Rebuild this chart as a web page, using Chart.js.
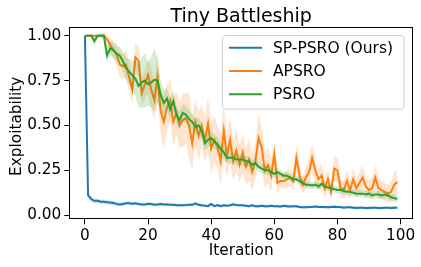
<!DOCTYPE html>
<html>
<head>
<meta charset="utf-8">
<script src="https://cdn.jsdelivr.net/npm/chart.js@4.4.1/dist/chart.umd.min.js"></script>
<style>
  html, body { margin: 0; padding: 0; background: #fff; }
  canvas { display: block; }
</style>
</head>
<body>
<canvas id="chart" width="421" height="267"></canvas>
<script>
const FONT = 'DejaVu Sans'
const TITLE = 'Tiny Battleship'
const Y_LABEL = 'Exploitability'

// iteration index 0..99
const iterations = Array.from({ length: 100 }, (_, i) => i)
const xTicks = [0, 20, 40, 60, 80, 100]
const yTicks = [0, 0.25, 0.5, 0.75, 1.0]

const spPsro = [
  1.0, 0.11, 0.09, 0.08, 0.08, 0.075, 0.075, 0.072, 0.07, 0.068,
  0.063, 0.06, 0.062, 0.066, 0.066, 0.064, 0.066, 0.062, 0.06, 0.06,
  0.063, 0.062, 0.058, 0.06, 0.062, 0.06, 0.06, 0.058, 0.058, 0.055,
  0.055, 0.055, 0.056, 0.058, 0.058, 0.065, 0.058, 0.055, 0.053, 0.05,
  0.062, 0.05, 0.056, 0.05, 0.055, 0.053, 0.055, 0.06, 0.056, 0.055,
  0.055, 0.052, 0.05, 0.055, 0.05, 0.05, 0.052, 0.05, 0.05, 0.052,
  0.05, 0.05, 0.048, 0.052, 0.05, 0.048, 0.05, 0.05, 0.046, 0.044,
  0.044, 0.045, 0.045, 0.048, 0.046, 0.045, 0.045, 0.044, 0.046, 0.047,
  0.045, 0.045, 0.042, 0.044, 0.044, 0.042, 0.04, 0.041, 0.042, 0.04,
  0.04, 0.041, 0.042, 0.04, 0.04, 0.041, 0.042, 0.04, 0.042, 0.042
]
const spPsroSpread = [
  0, 0.02, 0.015, 0.012, 0.012, 0.012, 0.012, 0.012, 0.012, 0.012,
  0.01, 0.01, 0.01, 0.01, 0.01, 0.01, 0.01, 0.01, 0.01, 0.01,
  0.008, 0.008, 0.008, 0.008, 0.008, 0.008, 0.008, 0.008, 0.008, 0.008,
  0.008, 0.008, 0.008, 0.008, 0.008, 0.008, 0.008, 0.008, 0.008, 0.008,
  0.008, 0.008, 0.008, 0.008, 0.008, 0.008, 0.008, 0.008, 0.008, 0.008,
  0.008, 0.008, 0.008, 0.008, 0.008, 0.008, 0.008, 0.008, 0.008, 0.008,
  0.008, 0.008, 0.008, 0.008, 0.008, 0.008, 0.008, 0.008, 0.008, 0.008,
  0.008, 0.008, 0.008, 0.008, 0.008, 0.008, 0.008, 0.008, 0.008, 0.008,
  0.008, 0.008, 0.008, 0.008, 0.008, 0.008, 0.008, 0.008, 0.008, 0.008,
  0.008, 0.008, 0.008, 0.008, 0.008, 0.008, 0.008, 0.008, 0.008, 0.008
]

const apsro = [
  1.0, 1.0, 1.0, 1.0, 1.0, 1.0, 1.0, 0.98, 0.95, 0.92,
  0.90, 0.84, 0.83, 0.84, 0.77, 0.70, 0.88, 0.86, 0.68, 0.73,
  0.78, 0.70, 0.64, 0.77, 0.58, 0.52, 0.60, 0.64, 0.52, 0.57,
  0.50, 0.53, 0.54, 0.50, 0.40, 0.52, 0.44, 0.50, 0.42, 0.51,
  0.37, 0.42, 0.38, 0.30, 0.47, 0.33, 0.42, 0.30, 0.36, 0.28,
  0.35, 0.27, 0.31, 0.24, 0.30, 0.43, 0.38, 0.25, 0.28, 0.22,
  0.34, 0.18, 0.19, 0.19, 0.20, 0.21, 0.19, 0.32, 0.22, 0.17,
  0.21, 0.24, 0.32, 0.25, 0.20, 0.22, 0.15, 0.20, 0.13, 0.26,
  0.25, 0.15, 0.14, 0.19, 0.14, 0.20, 0.15, 0.18, 0.21, 0.16,
  0.14, 0.15, 0.21, 0.15, 0.14, 0.13, 0.12, 0.13, 0.17, 0.185
]
const apsroSpread = [
  0, 0, 0, 0, 0, 0, 0.01, 0.03, 0.04, 0.05,
  0.06, 0.07, 0.07, 0.08, 0.08, 0.08, 0.08, 0.08, 0.08, 0.08,
  0.1, 0.12, 0.1, 0.14, 0.12, 0.15, 0.13, 0.12, 0.14, 0.12,
  0.13, 0.15, 0.14, 0.18, 0.15, 0.12, 0.14, 0.12, 0.13, 0.15,
  0.14, 0.13, 0.12, 0.14, 0.15, 0.12, 0.13, 0.11, 0.12, 0.1,
  0.11, 0.1, 0.12, 0.1, 0.1, 0.13, 0.11, 0.1, 0.1, 0.09,
  0.08, 0.06, 0.04, 0.04, 0.05, 0.05, 0.05, 0.08, 0.06, 0.05,
  0.06, 0.07, 0.08, 0.07, 0.06, 0.07, 0.05, 0.06, 0.05, 0.07,
  0.07, 0.05, 0.05, 0.06, 0.05, 0.06, 0.05, 0.06, 0.07, 0.05,
  0.05, 0.06, 0.07, 0.06, 0.05, 0.05, 0.05, 0.06, 0.07, 0.07
]

const psro = [
  1.0, 1.0, 1.0, 0.97, 1.0, 1.0, 1.0, 0.89, 0.93, 0.92,
  0.90, 0.89, 0.86, 0.82, 0.80, 0.78, 0.76, 0.72, 0.74, 0.75,
  0.73, 0.74, 0.755, 0.75, 0.67, 0.625, 0.65, 0.59, 0.635, 0.56,
  0.53, 0.57, 0.56, 0.535, 0.52, 0.49, 0.50, 0.47, 0.40, 0.42,
  0.43, 0.41, 0.395, 0.37, 0.35, 0.32, 0.32, 0.32, 0.31, 0.31,
  0.31, 0.30, 0.30, 0.28, 0.29, 0.27, 0.26, 0.25, 0.25, 0.24,
  0.23, 0.24, 0.23, 0.22, 0.22, 0.21, 0.20, 0.20, 0.19, 0.18,
  0.17, 0.17, 0.165, 0.17, 0.16, 0.175, 0.16, 0.155, 0.15, 0.145,
  0.14, 0.14, 0.135, 0.13, 0.13, 0.125, 0.12, 0.12, 0.12, 0.115,
  0.12, 0.11, 0.115, 0.115, 0.11, 0.115, 0.11, 0.10, 0.095, 0.09
]
const psroSpread = [
  0, 0, 0.01, 0.03, 0.01, 0.01, 0.02, 0.04, 0.04, 0.04,
  0.04, 0.05, 0.05, 0.06, 0.07, 0.08, 0.1, 0.12, 0.14, 0.15,
  0.12, 0.14, 0.18, 0.12, 0.08, 0.07, 0.06, 0.06, 0.06, 0.05,
  0.05, 0.05, 0.05, 0.05, 0.045, 0.045, 0.045, 0.04, 0.04, 0.04,
  0.04, 0.04, 0.04, 0.035, 0.035, 0.03, 0.03, 0.03, 0.03, 0.03,
  0.03, 0.03, 0.03, 0.03, 0.03, 0.03, 0.025, 0.025, 0.025, 0.025,
  0.025, 0.025, 0.02, 0.02, 0.02, 0.02, 0.02, 0.02, 0.02, 0.02,
  0.02, 0.02, 0.02, 0.02, 0.02, 0.02, 0.02, 0.02, 0.02, 0.02,
  0.02, 0.02, 0.02, 0.02, 0.02, 0.02, 0.02, 0.02, 0.02, 0.02,
  0.02, 0.02, 0.02, 0.02, 0.02, 0.02, 0.02, 0.02, 0.02, 0.02
]

const series = [
  { label: 'SP-PSRO (Ours)', mean: spPsro, spread: spPsroSpread, color: '31, 119, 180' },
  { label: 'APSRO', mean: apsro, spread: apsroSpread, color: '255, 127, 14' },
  { label: 'PSRO', mean: psro, spread: psroSpread, color: '44, 160, 44' }
]

function points(values) {
  return iterations.map(i => ({ x: i, y: values[i] }))
}

// each series: lower band edge, upper band edge (filled to lower), mean line
const datasets = []
let order = series.length * 3
series.forEach(s => {
  datasets.push({
    label: s.label + ' lo',
    data: points(s.mean.map((v, i) => v - s.spread[i])),
    borderWidth: 0, pointRadius: 0, fill: false, order: order--
  })
  datasets.push({
    label: s.label + ' hi',
    data: points(s.mean.map((v, i) => v + s.spread[i])),
    borderWidth: 0, pointRadius: 0,
    fill: '-1', backgroundColor: `rgba(${s.color}, 0.2)`, order: order--
  })
  datasets.push({
    label: s.label,
    data: points(s.mean),
    borderColor: `rgb(${s.color})`, borderWidth: 2, pointRadius: 0,
    tension: 0, fill: false, order: order--
  })
})

const framePlugin = {
  id: 'frame',
  afterDraw(chart) {
    const { ctx, chartArea: a } = chart
    ctx.save()
    ctx.strokeStyle = '#000'
    ctx.lineWidth = 1
    ctx.strokeRect(Math.round(a.left) + 0.5, Math.round(a.top) + 0.5,
      Math.round(a.right - a.left) - 1, Math.round(a.bottom - a.top) - 1)

    // title centred over the axes
    ctx.fillStyle = '#000'
    ctx.font = `19px "${FONT}"`
    ctx.textAlign = 'center'
    ctx.textBaseline = 'alphabetic'
    ctx.fillText(TITLE, (a.left + a.right) / 2, 21.5)

    // y axis label
    ctx.save()
    ctx.translate(20.5, (a.top + a.bottom) / 2 + 3)
    ctx.rotate(-Math.PI / 2)
    ctx.font = `15.3px "${FONT}"`
    ctx.fillText(Y_LABEL, 0, 0)
    ctx.restore()

    // legend box, upper right inside the axes
    const bx = 222.5, by = 35.5, bw = 181.5, bh = 73.5, r = 3
    ctx.fillStyle = 'rgba(255,255,255,0.8)'
    ctx.strokeStyle = '#d0d0d0'
    ctx.beginPath()
    ctx.roundRect(bx, by, bw, bh, r)
    ctx.fill()
    ctx.stroke()
    ctx.font = `15.5px "${FONT}"`
    ctx.textAlign = 'left'
    ctx.textBaseline = 'middle'
    ctx.fillStyle = '#000'
    series.forEach((s, k) => {
      const y = 47.7 + k * 23.3
      ctx.strokeStyle = `rgb(${s.color})`
      ctx.lineWidth = 2
      ctx.beginPath()
      ctx.moveTo(229, y)
      ctx.lineTo(262, y)
      ctx.stroke()
      ctx.fillText(s.label, 273, y + 1)
    })
    ctx.restore()
  }
}

new Chart(document.getElementById('chart'), {
  type: 'line',
  data: { datasets },
  options: {
    responsive: false,
    animation: false,
    events: [],
    layout: { padding: { left: 0, right: 8, top: 27.3, bottom: 0 } },
    plugins: {
      legend: { display: false },
      tooltip: { enabled: false },
      title: { display: false }
    },
    scales: {
      x: {
        type: 'linear',
        min: -4.95,
        max: 103.95,
        afterBuildTicks: scale => { scale.ticks = xTicks.map(v => ({ value: v })) },
        afterFit: scale => { scale.height = 47.7 },
        grid: { drawOnChartArea: false, color: '#000', tickLength: 5 },
        border: { display: false },
        ticks: { color: '#000', font: { family: FONT, size: 15.3 }, padding: 3, maxRotation: 0 },
        title: {
          display: true, text: 'Iteration', color: '#000',
          font: { family: FONT, size: 15.3 }, padding: { top: 0, bottom: 7 }
        }
      },
      y: {
        min: -0.023,
        max: 1.047,
        afterBuildTicks: scale => { scale.ticks = yTicks.map(v => ({ value: v })) },
        afterFit: scale => { scale.width = 69.3 },
        grid: { drawOnChartArea: false, color: '#000', tickLength: 5 },
        border: { display: false },
        ticks: {
          color: '#000', font: { family: FONT, size: 15.3 }, padding: 3,
          callback: v => v.toFixed(2)
        },
        title: { display: false }
      }
    }
  },
  plugins: [framePlugin]
})
</script>
</body>
</html>
